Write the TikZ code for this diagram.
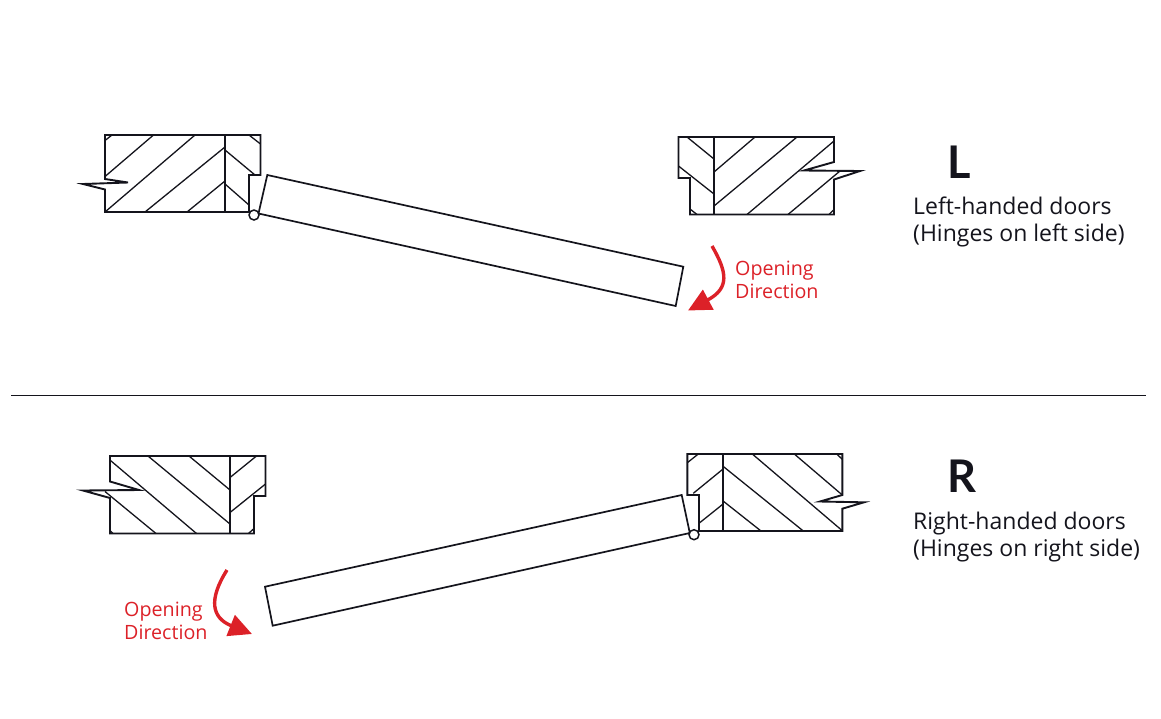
\documentclass[tikz,border=0pt]{standalone}
\usepackage{fontspec}
\setmainfont{Open Sans}
\newfontfamily\markfont{Lato}
\usetikzlibrary{arrows.meta}
\definecolor{openred}{HTML}{DC2128}
\definecolor{inkblack}{HTML}{14141C}
\tikzstyle{jamb} = [draw=inkblack,line width=1.9pt,line join=miter]
\tikzstyle{hatch} = [draw=inkblack,line width=1.3pt]
\tikzstyle{door} = [draw=inkblack,line width=1.7pt,fill=white]
\tikzstyle{hinge} = [draw=inkblack,line width=1.5pt,fill=white]
\tikzstyle{swing} = [draw=openred,line width=3.4pt,-{Triangle[length=23pt,width=22pt]}]
\tikzstyle{hand} = [anchor=base west,inner sep=0pt,text=inkblack,font=\fontsize{45}{45}\selectfont\markfont\bfseries]
\tikzstyle{caption} = [anchor=base west,inner sep=0pt,text=inkblack,font=\fontsize{23}{24}\selectfont]
\tikzstyle{opening} = [anchor=base west,inner sep=0pt,text=openred,font=\fontsize{19.7}{20}\selectfont]

\begin{document}
\begin{tikzpicture}[x=1pt,y=-1pt]
	\useasboundingbox (0,0) rectangle (1161,718);

	%left-handed, hinge jamb
	\draw [hatch] (105,140.5) -- (112,135);
	\draw [hatch] (105,176.5) -- (153.5,135);
	\draw [hatch] (105,212) -- (195,135);
	\draw [hatch] (145,212) -- (225,147);
	\draw [hatch] (187,212) -- (225,181);
	\draw [hatch] (225,150) -- (255,175);
	\draw [hatch] (225,184) -- (249,205);
	\draw [hatch] (249,135) -- (260.5,144);
	\draw [jamb] (105,135) -- (260.5,135) -- (260.5,175) -- (249,175) -- (249,212) -- (105,212) -- (105,189.5)
		-- (83,184) -- (128,182.5) -- (105,179) -- cycle;
	\draw [jamb] (225,135) -- (225,212);

	%left-handed, far jamb
	\draw [hatch] (687,137) -- (714,159);
	\draw [hatch] (678.5,166) -- (714,194);
	\draw [hatch] (690,209) -- (697,214.5);
	\draw [hatch] (714,172) -- (755,137);
	\draw [hatch] (714,206) -- (797,137);
	\draw [hatch] (747,214.5) -- (834,141);
	\draw [hatch] (788,214.5) -- (840,171);
	\draw [hatch] (829,214.5) -- (834,209.5);
	\draw [jamb] (678.5,137) -- (834,137) -- (834,162) -- (804,170.5) -- (860,171) -- (834,179.5) -- (834,214.5)
		-- (690,214.5) -- (690,178) -- (678.5,178) -- cycle;
	\draw [jamb] (714,137) -- (714,214.5);

	%left-handed, door
	\draw [door] (267.3,175) -- (683.3,266.7) -- (675.7,306) -- (258.5,213.5) -- cycle;
	\draw [hinge] (254,215) circle [radius=5];

	\draw [swing] (712,246) .. controls (727,272) and (730,288) .. (688,310.5);
	\node (openL) [opening] at (735,275) {Opening};
	\node (dirL) [opening] at (735,298) {Direction};

	\node (markL) [hand] at (947,178) {L};
	\node (capL) [caption] at (913,214) {Left-handed doors};
	\node (subL) [caption] at (913,241) {(Hinges on left side)};

	%divider
	\draw [draw=inkblack,line width=1.2pt] (11,395.5) -- (1146,395.5);

	%right-handed, far jamb
	\draw [hatch] (110.5,460.5) -- (196.5,533.5);
	\draw [hatch] (148,456) -- (230,524);
	\draw [hatch] (189,456) -- (230,490);
	\draw [hatch] (105,491.5) -- (156,533.5);
	\draw [hatch] (110,530.5) -- (113,533.5);
	\draw [hatch] (230,477.5) -- (256.5,456);
	\draw [hatch] (230,512.5) -- (265.5,484);
	\draw [hatch] (248.5,533.5) -- (254,528.5);
	\draw [jamb] (110,456) -- (265.5,456) -- (265.5,496) -- (254,496) -- (254,533.5) -- (110,533.5) -- (110,498)
		-- (83,490.5) -- (139,490) -- (110,481.5) -- cycle;
	\draw [jamb] (230,456) -- (230,533.5);

	%right-handed, hinge jamb
	\draw [hatch] (687.3,462.7) -- (698.3,454);
	\draw [hatch] (693.3,493.3) -- (722.7,469.3);
	\draw [hatch] (699,523.3) -- (722.7,504.3);
	\draw [hatch] (752.3,454) -- (842.3,530.7);
	\draw [hatch] (794.3,454) -- (842.3,495);
	\draw [hatch] (722.7,466) -- (803.3,531);
	\draw [hatch] (722.7,500.7) -- (761,531);
	\draw [hatch] (836.7,454) -- (842.3,459.3);
	\draw [jamb] (687.3,454) -- (842.3,454) -- (842.3,495) -- (820,501.5) -- (864,502.3) -- (842.3,508.7) -- (842.3,531)
		-- (699,531) -- (699,495) -- (687.3,495) -- cycle;
	\draw [jamb] (722.7,454) -- (722.7,531);

	%right-handed, door
	\draw [door] (681.7,495) -- (265,586.7) -- (272.7,625.7) -- (689.8,533) -- cycle;
	\draw [hinge] (694,534.7) circle [radius=5];

	\draw [swing] (227,570) .. controls (208,600) and (212,618) .. (252,634);
	\node (openR) [opening] at (124,616) {Opening};
	\node (dirR) [opening] at (124,639) {Direction};

	\node (markR) [hand] at (947,492) {R};
	\node (capR) [caption] at (913,529) {Right-handed doors};
	\node (subR) [caption] at (913,556) {(Hinges on right side)};
\end{tikzpicture}
\end{document}
